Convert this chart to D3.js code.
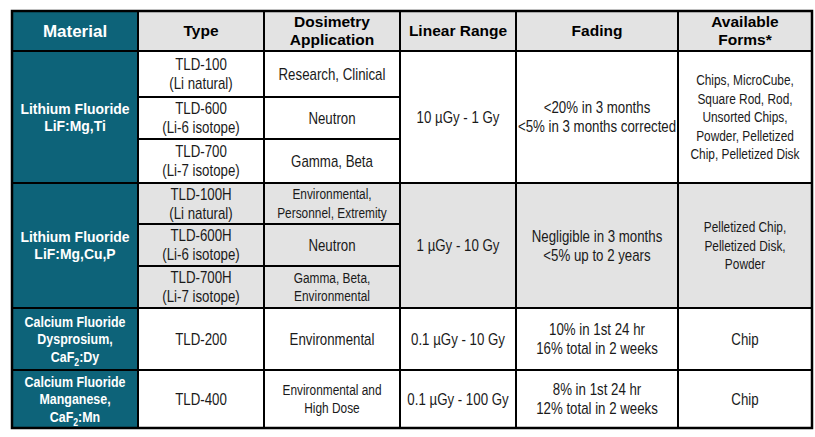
<!DOCTYPE html>
<html>
<head>
<meta charset="utf-8">
<script src="https://cdn.jsdelivr.net/npm/d3@7"></script>
<style>
	body { margin: 0; background: #fff; }
	svg { display: block; }
</style>
</head>
<body>
<div id="table"></div>
<script>
// table content, "|" splits lines, "_2" is a subscript 2
var headers = ["Material", "Type", "Dosimetry|Application", "Linear Range", "Fading", "Available|Forms*"];
var materials = ["Lithium Fluoride|LiF:Mg,Ti", "Lithium Fluoride|LiF:Mg,Cu,P", "Calcium Fluoride|Dysprosium,|CaF_2:Dy", "Calcium Fluoride|Manganese,|CaF_2:Mn"];
var groupRows = [3, 3, 1, 1];
var types = ["TLD-100|(Li natural)", "TLD-600|(Li-6 isotope)", "TLD-700|(Li-7 isotope)", "TLD-100H|(Li natural)", "TLD-600H|(Li-6 isotope)", "TLD-700H|(Li-7 isotope)", "TLD-200", "TLD-400"];
var applications = ["Research, Clinical", "Neutron", "Gamma, Beta", "Environmental,|Personnel, Extremity", "Neutron", "Gamma, Beta,|Environmental", "Environmental", "Environmental and|High Dose"];
var linearRanges = ["10 µGy - 1 Gy", "1 µGy - 10 Gy", "0.1 µGy - 10 Gy", "0.1 µGy - 100 Gy"];
var fadings = ["<20% in 3 months|<5% in 3 months corrected", "Negligible in 3 months|<5% up to 2 years", "10% in 1st 24 hr|16% total in 2 weeks", "8% in 1st 24 hr|12% total in 2 weeks"];
var forms = ["Chips, MicroCube,|Square Rod, Rod,|Unsorted Chips,|Powder, Pelletized|Chip, Pelletized Disk", "Pelletized Chip,|Pelletized Disk,|Powder", "Chip", "Chip"];

// layout
var width = 815, height = 437;
var marginLeft = 12, marginTop = 11;
var colWidths = [126, 126, 136, 116, 162, 134];
var rowHeights = [40, 46, 42, 44, 41, 42, 42, 62, 58];
var teal = "#0d6379", gray = "#e3e3e3", ink = "#1a1a1a";
var fontFamily = "Arial, 'Liberation Sans', Helvetica, sans-serif";

var colEdges = [marginLeft].concat(Array.from(d3.cumsum(colWidths), function(d) { return marginLeft + d; }));
var rowEdges = [marginTop].concat(Array.from(d3.cumsum(rowHeights), function(d) { return marginTop + d; }));
var x = d3.scaleOrdinal().domain(d3.range(colEdges.length)).range(colEdges);
var y = d3.scaleOrdinal().domain(d3.range(rowEdges.length)).range(rowEdges);

// build the cell list
var cells = [];
headers.forEach(function(h, c) {
	cells.push({c0: c, c1: c + 1, r0: 0, r1: 1, text: h, kind: "header", fill: c == 0 ? teal : gray});
});
var r = 1, t = 0;
groupRows.forEach(function(n, g) {
	var fill = (g == 1) ? gray : "#fff";
	cells.push({c0: 0, c1: 1, r0: r, r1: r + n, text: materials[g], kind: "material", fill: teal});
	for (var k = 0; k < n; k++) {
		cells.push({c0: 1, c1: 2, r0: r + k, r1: r + k + 1, text: types[t], kind: "body", fill: fill});
		cells.push({c0: 2, c1: 3, r0: r + k, r1: r + k + 1, text: applications[t], kind: "small", fill: fill});
		t++;
	}
	cells.push({c0: 3, c1: 4, r0: r, r1: r + n, text: linearRanges[g], kind: "body", fill: fill});
	cells.push({c0: 4, c1: 5, r0: r, r1: r + n, text: fadings[g], kind: "body", fill: fill});
	cells.push({c0: 5, c1: 6, r0: r, r1: r + n, text: forms[g], kind: "small", fill: fill});
	r += n;
});

var svg = d3.select("#table").append("svg")
	.attr("width", width)
	.attr("height", height);

// cell backgrounds
svg.append("g").selectAll("rect")
	.data(cells).enter()
	.append("rect")
		.attr("x", function(d) { return x(d.c0); })
		.attr("y", function(d) { return y(d.r0); })
		.attr("width", function(d) { return x(d.c1) - x(d.c0); })
		.attr("height", function(d) { return y(d.r1) - y(d.r0); })
		.attr("fill", function(d) { return d.fill; })
		.attr("stroke", "#000")
		.attr("stroke-width", 2);

// outer frame
svg.append("rect")
	.attr("x", x(0))
	.attr("y", y(0))
	.attr("width", x(6) - x(0))
	.attr("height", y(9) - y(0))
	.attr("fill", "none")
	.attr("stroke", "#000")
	.attr("stroke-width", 2.5);

// text
var style = function(d) {
	var lines = d.text.split("|");
	if (d.kind == "header") return {size: d.c0 == 0 ? 17 : 15.5, weight: "bold", color: d.c0 == 0 ? "#fff" : "#000", sx: 1, lh: 18};
	if (d.kind == "material") return {size: 15, weight: "bold", color: "#fff", sx: lines.length > 2 ? 0.83 : 0.93, lh: 17.5};
	if (d.kind == "small" && lines.length > 1) return {size: 14.5, weight: "normal", color: ink, sx: 0.82, lh: 18.5};
	return {size: 16, weight: "normal", color: ink, sx: 0.83, lh: 19};
};

var labels = svg.append("g").selectAll("g")
	.data(cells).enter()
	.append("g")
		.attr("transform", function(d) {
			var cx = (x(d.c0) + x(d.c1)) / 2;
			var cy = (y(d.r0) + y(d.r1)) / 2;
			return "translate(" + cx + "," + cy + ") scale(" + style(d).sx + ",1)";
		});

labels.each(function(d) {
	var s = style(d);
	var lines = d.text.split("|");
	var g = d3.select(this);
	lines.forEach(function(line, i) {
		var txt = g.append("text")
			.attr("text-anchor", "middle")
			.attr("y", (i - (lines.length - 1) / 2) * s.lh)
			.attr("dy", "0.35em")
			.attr("font-family", fontFamily)
			.attr("font-size", s.size)
			.attr("font-weight", s.weight)
			.attr("fill", s.color);
		var parts = line.split("_2");
		if (parts.length == 1) {
			txt.text(line);
		} else {
			txt.append("tspan").text(parts[0]);
			txt.append("tspan").attr("font-size", s.size * 0.7).attr("dy", 4).text("2");
			txt.append("tspan").attr("dy", -4).text(parts[1]);
		}
	});
});
</script>
</body>
</html>
